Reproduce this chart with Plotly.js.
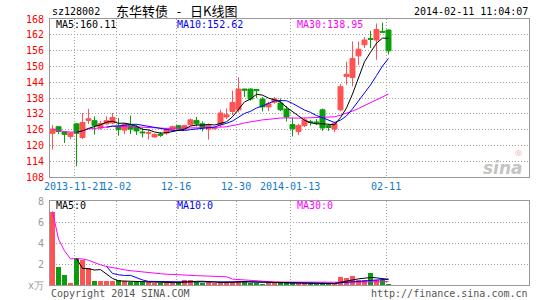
<!DOCTYPE html>
<html>
<head>
<meta charset="utf-8">
<script src="https://cdn.plot.ly/plotly-3.0.1.min.js"></script>
<style>html,body{margin:0;padding:0;background:#fff;}#chart{width:545px;height:300px;}</style>
</head>
<body>
<div id="chart"></div>
<script>
// ---- data ----
var dates = [
 "2013-11-15","2013-11-18","2013-11-19","2013-11-20","2013-11-21","2013-11-22","2013-11-25","2013-11-26","2013-11-27","2013-11-28",
 "2013-11-29","2013-12-02","2013-12-03","2013-12-04","2013-12-05","2013-12-06","2013-12-09","2013-12-10","2013-12-11","2013-12-12",
 "2013-12-13","2013-12-16","2013-12-17","2013-12-18","2013-12-19","2013-12-20","2013-12-23","2013-12-24","2013-12-25","2013-12-26",
 "2013-12-27","2013-12-30","2013-12-31","2014-01-02","2014-01-03","2014-01-06","2014-01-07","2014-01-08","2014-01-09","2014-01-10",
 "2014-01-13","2014-01-14","2014-01-15","2014-01-16","2014-01-17","2014-01-20","2014-01-21","2014-01-22","2014-01-23","2014-01-24",
 "2014-01-27","2014-01-28","2014-01-29","2014-01-30","2014-02-07","2014-02-10","2014-02-11"];
var openP = [
 124.6,127.1,125.1,123.4,128.2,123.0,129.5,129.4,126.6,128.2,
 128.5,127.2,125.8,127.5,127.0,125.1,124.6,123.2,124.3,124.7,
 126.0,127.5,126.2,127.8,129.5,128.2,126.2,126.4,127.8,130.8,
 132.9,133.5,141.4,141.4,141.2,137.6,134.6,136.4,136.1,133.8,
 127.9,125.3,127.5,129.0,128.9,133.5,127.5,126.2,133.5,146.2,
 145.8,154.0,158.2,160.6,160.0,163.3,163.8];
var closeP = [
 126.2,125.3,124.2,124.7,124.6,128.7,130.1,127.5,128.3,129.4,
 130.6,126.0,128.0,126.2,125.5,124.8,124.9,124.2,123.9,126.2,
 127.1,126.2,127.5,129.7,128.2,126.8,127.5,126.6,132.3,131.6,
 136.3,141.4,141.0,137.6,140.8,134.6,135.8,137.7,133.5,130.8,
 126.3,127.5,129.7,128.7,128.6,126.6,126.8,128.4,142.3,147.0,
 153.0,156.5,160.0,160.3,164.0,163.0,155.9];
var highP = [
 127.8,127.3,125.4,125.1,128.3,132.3,133.9,131.0,129.2,131.0,
 132.3,130.4,128.5,131.3,127.8,126.6,125.9,124.5,125.1,126.6,
 127.5,127.6,127.8,130.2,130.8,129.1,128.3,127.0,133.5,134.0,
 140.8,145.9,141.5,141.6,141.3,138.4,136.6,138.3,137.8,135.0,
 130.5,128.2,130.5,129.7,130.0,134.0,128.0,129.0,143.3,151.8,
 159.5,159.4,161.1,163.5,166.3,166.6,164.0];
var lowP = [
 118.4,124.3,120.9,122.4,112.1,122.4,128.2,124.1,126.0,127.8,
 128.0,123.7,124.3,124.3,124.0,123.0,122.2,122.9,123.2,124.0,
 125.8,125.5,126.0,127.5,127.2,125.3,122.2,126.0,127.0,130.0,
 131.5,132.5,138.4,137.0,138.0,132.9,133.0,135.8,133.0,129.1,
 123.4,123.9,127.0,127.5,127.8,125.5,125.5,125.0,133.0,143.0,
 142.4,150.5,157.0,157.0,152.5,162.7,154.5];
var volume = [
 7.0,1.75,1.0,0.2,2.6,2.35,1.6,0.38,0.38,0.38,
 0.38,0.45,0.35,0.3,0.3,0.3,0.25,0.22,0.2,0.22,
 0.2,0.25,0.5,0.5,0.3,0.22,0.25,0.18,0.25,0.25,
 0.3,0.4,0.4,0.15,0.22,0.12,0.2,0.2,0.18,0.18,
 0.18,0.18,0.15,0.15,0.12,0.12,0.12,0.15,0.78,0.65,
 0.85,0.5,0.45,1.15,0.45,0.5,0.12];
var tickDates = ["2013-11-21","2013-12-02","2013-12-16","2013-12-30","2014-01-13","2014-02-11"];
var tickLabels = ["2013-11-21","12-02","12-16","12-30","2014-01-13","02-11"];
var priceTicks = [108,114,120,126,132,138,144,150,156,162,168];
var volTicks = [0,2,4,6,8];
var volTickText = ["x万","2","4","6","8"];

// ---- helpers ----
var RED = "#ff5252", GREEN = "#0a9e0a";
var idx = dates.map(function(d,i){return i;});
function ma(arr, n, expanding) {
  return arr.map(function(v,i){
    if (i < n-1 && !expanding) return null;
    var s = Math.max(0, i-n+1), sum = 0;
    for (var j=s;j<=i;j++) sum += arr[j];
    return sum/(i-s+1);
  });
}
var up = closeP.map(function(c,i){return c >= openP[i];});
var volColors = up.map(function(u){return u ? RED : GREEN;});

var traces = [
  {type:"candlestick", x:idx, open:openP, high:highP, low:lowP, close:closeP,
   xaxis:"x", yaxis:"y", whiskerwidth:0, hoverinfo:"skip",
   increasing:{line:{color:RED,width:1},fillcolor:RED},
   decreasing:{line:{color:GREEN,width:1},fillcolor:GREEN}},
  {type:"scatter", mode:"lines", x:idx, y:ma(closeP,30,true), line:{color:"#ff00ff",width:1}, xaxis:"x", yaxis:"y", hoverinfo:"skip"},
  {type:"scatter", mode:"lines", x:idx, y:ma(closeP,10,false), line:{color:"#0000ff",width:1}, xaxis:"x", yaxis:"y", hoverinfo:"skip"},
  {type:"scatter", mode:"lines", x:idx, y:ma(closeP,5,false), line:{color:"#000000",width:1}, xaxis:"x", yaxis:"y", hoverinfo:"skip"},
  {type:"bar", x:idx, y:volume, marker:{color:volColors,line:{width:0}}, width:0.83, xaxis:"x2", yaxis:"y2", hoverinfo:"skip"},
  {type:"scatter", mode:"lines", x:idx, y:ma(volume,30,true), line:{color:"#ff00ff",width:1}, xaxis:"x2", yaxis:"y2", hoverinfo:"skip"},
  {type:"scatter", mode:"lines", x:idx, y:ma(volume,10,false), line:{color:"#0000ff",width:1}, xaxis:"x2", yaxis:"y2", hoverinfo:"skip"},
  {type:"scatter", mode:"lines", x:idx, y:ma(volume,5,false), line:{color:"#000000",width:1}, xaxis:"x2", yaxis:"y2", hoverinfo:"skip"}
];

var L=50, R=529, T=19, B=285;
function px(x){return (x-L)/(R-L);}
function py(y){return (B-y)/(B-T);}
var MONO = "DejaVu Sans Mono, monospace";
function ann(text, x, y, anchor, color, size, fam){
  return {text:text, xref:"paper", yref:"paper", x:px(x), y:py(y), xanchor:anchor, yanchor:"middle",
    showarrow:false, font:{family:fam||MONO, size:size||10, color:color||"#000"}};
}
var tickvals = tickDates.map(function(d){return dates.indexOf(d) - 0.4;});
var grid = {showgrid:true, gridcolor:"#a0a0a0", griddash:"1px,2px", gridwidth:1};
var xr = [-0.42, 79.42];

var layout = {
  width:545, height:300, margin:{l:L, r:545-R, t:T, b:300-B, pad:0},
  paper_bgcolor:"#fff", plot_bgcolor:"#fff", showlegend:false,
  boxgap:0.09, boxgroupgap:0.09, bargap:0,
  xaxis:Object.assign({domain:[0,1], anchor:"y", range:xr, tickmode:"array", tickvals:tickvals, ticktext:tickLabels,
    tickangle:0, tickfont:{family:MONO, size:10, color:"#1478c8"}, ticks:"", showline:true, mirror:true, linecolor:"#999", linewidth:1,
    zeroline:false, rangeslider:{visible:false}, fixedrange:true}, grid),
  xaxis2:Object.assign({domain:[0,1], anchor:"y2", matches:"x", range:xr, tickmode:"array", tickvals:tickvals, showticklabels:false,
    ticks:"", showline:true, mirror:true, linecolor:"#999", linewidth:1, zeroline:false}, grid),
  yaxis:Object.assign({domain:[(B-177)/(B-T),1], range:[108,168], tickmode:"array", tickvals:priceTicks,
    tickfont:{family:MONO, size:10, color:"#ff0000"}, ticks:"", ticklabelstandoff:3, showline:true, mirror:true, linecolor:"#999", linewidth:1, zeroline:false}, grid),
  yaxis2:Object.assign({domain:[0,(B-201)/(B-T)], range:[0,8], tickmode:"array", tickvals:volTicks, ticktext:volTickText,
    tickfont:{family:MONO, size:10, color:"#999"}, ticks:"", ticklabelstandoff:3, showline:true, mirror:true, linecolor:"#999", linewidth:1, zeroline:false}, grid),
  annotations:[
    ann("sz128002", 50, 11, "left"),
    ann("东华转债&nbsp;&nbsp;&nbsp;-&nbsp;&nbsp;&nbsp;日K线图", 176, 10, "center", "#000", 13, "Noto Sans CJK SC"),
    ann("2014-02-11 11:04:07", 530, 11, "right"),
    ann("MA5:160.11", 54, 24, "left", "#000"),
    ann("MA10:152.62", 175, 24, "left", "#0000ff"),
    ann("MA30:138.95", 295, 24, "left", "#ff00ff"),
    ann("MA5:0", 54, 205, "left", "#000"),
    ann("MA10:0", 175, 205, "left", "#0000ff"),
    ann("MA30:0", 295, 205, "left", "#ff00ff"),
    ann("Copyright 2014 SINA.COM", 49, 293, "left", "#555"),
    ann("http://finance.sina.com.cn", 530, 293, "right", "#555"),
    ann("<i><b>sina</b></i>", 503, 168, "center", "#c4c4c4", 17, "DejaVu Sans"),
    ann("◎", 518, 152, "center", "#f2a0a0", 8, "DejaVu Sans")
  ]
};
Plotly.newPlot("chart", traces, layout, {staticPlot:true, displayModeBar:false});
</script>
</body>
</html>
